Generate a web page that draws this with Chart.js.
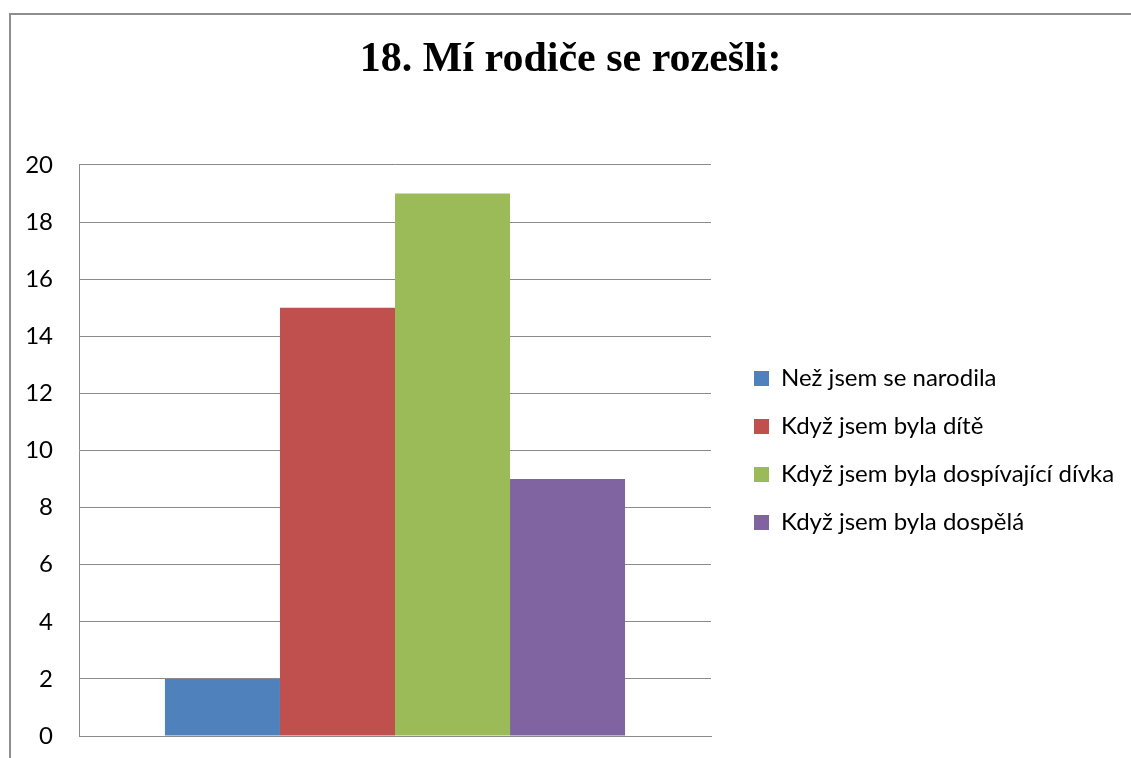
<!DOCTYPE html>
<html>
<head>
<meta charset="utf-8">
<title>18. Mí rodiče se rozešli</title>
<script src="https://cdn.jsdelivr.net/npm/chart.js@4.4.1/dist/chart.umd.min.js"></script>
<style>
  html, body { margin: 0; padding: 0; background: #fff; overflow: hidden; }
  #frame {
    position: absolute; left: 9px; top: 13px; width: 1200px; height: 800px;
    border-left: 2px solid #8e8e8e; border-top: 2px solid #8e8e8e;
  }
  #wrap { position: absolute; left: 0; top: 0; width: 1131px; height: 758px; }
</style>
</head>
<body>
<div id="frame"></div>
<div id="wrap"><canvas id="chart"></canvas></div>
<script>
// chart data
const categories = [''];
const seriesLabels = ['Než jsem se narodila', 'Když jsem byla dítě', 'Když jsem byla dospívající dívka', 'Když jsem byla dospělá'];
const seriesValues = [2, 15, 19, 9];
const seriesColors = ['#4F81BD', '#C0504D', '#9BBB59', '#8064A2'];
const yMin = 0, yMax = 20, yStep = 2;

const gridColor = '#8a8a8a';
const labelFont = { family: 'Lato', size: 24 };

// keep plot right edge fixed: legend grows into the right padding
const probe = document.createElement('canvas').getContext('2d');
probe.font = labelFont.size + 'px ' + labelFont.family;
const longest = Math.max(...seriesLabels.map(t => probe.measureText(t).width));
const rightPad = Math.max(0, 340 - longest);

const datasets = seriesLabels.map((label, i) => ({
  label: label,
  data: [seriesValues[i]],
  backgroundColor: seriesColors[i],
  borderWidth: 0,
  categoryPercentage: 0.728,
  barPercentage: 1.0
}));

new Chart(document.getElementById('chart'), {
  type: 'bar',
  data: { labels: categories, datasets: datasets },
  options: {
    responsive: true,
    maintainAspectRatio: false,
    animation: false,
    layout: { padding: { left: 17, right: rightPad, top: 0, bottom: 22 } },
    plugins: {
      title: {
        display: true,
        text: '18. Mí rodiče se rozešli:',
        color: '#000',
        font: { family: 'Liberation Serif', size: 42, weight: 'bold', lineHeight: 1.2 },
        padding: { top: 35, bottom: 79.5 }
      },
      legend: {
        position: 'right',
        align: 'center',
        fullSize: false,
        maxWidth: 600,
        labels: {
          color: '#000',
          font: labelFont,
          boxWidth: 15,
          boxHeight: 15,
          padding: 24
        }
      },
      tooltip: { enabled: false }
    },
    scales: {
      x: {
        grid: { display: false },
        border: { display: true, color: gridColor },
        ticks: { display: false },
        afterFit: s => { s.height = 0; }
      },
      y: {
        min: yMin, max: yMax,
        ticks: { stepSize: yStep, color: '#000', font: labelFont, padding: 0 },
        // invisible tick marks give the gap between labels and axis
        grid: { color: gridColor, drawTicks: true, tickLength: 26, tickColor: 'rgba(0,0,0,0)' },
        border: { color: gridColor },
        afterFit: s => { s.width = 62; }
      },
      spacer: {
        position: 'right',
        display: true,
        grid: { display: false },
        border: { display: false },
        ticks: { display: false },
        afterFit: s => { s.width = 19; }
      }
    }
  }
});
</script>
</body>
</html>
